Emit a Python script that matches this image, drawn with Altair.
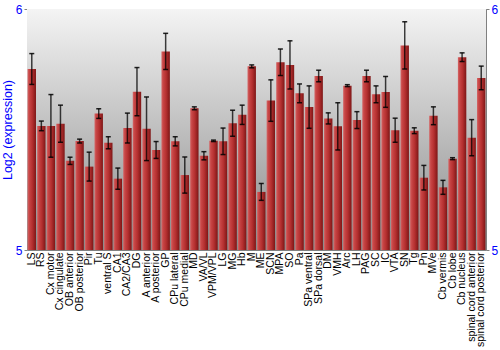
import altair as alt
import pandas as pd

regions = ["LS", "RS", "Cx motor", "Cx cingulate", "OB anterior", "OB posterior", "Pir", "Tu",
           "ventral S", "CA1", "CA2/CA3", "DG", "A anterior", "A posterior", "GP", "CPu lateral",
           "CPu medial", "MD", "VA/VL", "VPM/VPL", "LG", "MG", "Hb", "M", "ME", "SCN", "MPA", "SO",
           "Pa", "SPa ventral", "SPa dorsal", "DM", "VMH", "Arc", "LH", "PAG", "SC", "IC", "VTA",
           "SN", "Tg", "Pn", "MVe", "Cb vermis", "Cb lobe", "Cb nucleus", "spinal cord anterior",
           "spinal cord posterior"]
values = [5.751, 5.515, 5.515, 5.524, 5.370, 5.452, 5.346, 5.566, 5.445, 5.296, 5.506, 5.657,
          5.503, 5.415, 5.824, 5.451, 5.311, 5.588, 5.391, 5.453, 5.451, 5.526, 5.561, 5.762,
          5.241, 5.620, 5.779, 5.768, 5.650, 5.593, 5.722, 5.546, 5.513, 5.682, 5.539, 5.722,
          5.646, 5.656, 5.497, 5.849, 5.495, 5.300, 5.557, 5.260, 5.379, 5.800, 5.466, 5.714]
errors = [0.064, 0.02, 0.13, 0.077, 0.015, 0.008, 0.06, 0.02, 0.025, 0.044, 0.062, 0.10,
          0.132, 0.035, 0.075, 0.019, 0.075, 0.006, 0.017, 0.003, 0.055, 0.054, 0.04, 0.006,
          0.035, 0.086, 0.055, 0.10, 0.039, 0.088, 0.024, 0.023, 0.098, 0.004, 0.035, 0.024,
          0.035, 0.064, 0.05, 0.098, 0.012, 0.051, 0.037, 0.029, 0.004, 0.018, 0.075, 0.049]
y_ticks = [5, 6]

df = pd.DataFrame({"region": regions, "value": values, "err": errors})
df["lo"] = df["value"] - df["err"]
df["hi"] = df["value"] + df["err"]

BLUE = "#0000ff"
FONT = "Liberation Sans"

xenc = alt.X("region:N", sort=regions,
             scale=alt.Scale(paddingInner=0.12, paddingOuter=0.06),
             axis=alt.Axis(title=None, labelAngle=-90, labelFontSize=10.5, labelFont=FONT,
                           labelColor="#000000", ticks=False, domain=False, labelPadding=2,
                           labelOverlap=False))
yscale = alt.Scale(domain=[5, 6], nice=False, zero=False)

bg_grad = alt.LinearGradient(gradient="linear", x1=0, x2=0, y1=0, y2=1,
                             stops=[alt.GradientStop(color="#f4f4f4", offset=0),
                                    alt.GradientStop(color="#8a8a8a", offset=1)])
bar_grad = alt.LinearGradient(gradient="linear", x1=0, x2=1, y1=0, y2=0,
                              stops=[alt.GradientStop(color="#d46868", offset=0),
                                     alt.GradientStop(color="#c84646", offset=0.2),
                                     alt.GradientStop(color="#b53030", offset=0.55),
                                     alt.GradientStop(color="#7e1616", offset=1)])

bg = alt.Chart(pd.DataFrame({"a": [0]})).mark_rect(fill=bg_grad).encode(
    x=alt.value(0), x2=alt.value("width"),
    y=alt.Y(datum=6, type="quantitative", scale=yscale,
            axis=alt.Axis(orient="left", values=y_ticks, format="d", title="Log2 (expression)",
                          titleColor=BLUE, titleFontSize=12.5, titleFont=FONT, titleFontWeight="normal",
                          titlePadding=1, labelColor=BLUE, labelFontSize=12, labelFont=FONT,
                          tickSize=3, tickColor="#808080", domain=False, grid=False, labelPadding=2,
                          labelFlush=False)),
    y2=alt.datum(5),
)

base = alt.Chart(df)
bars = base.mark_bar(fill=bar_grad).encode(
    x=xenc,
    y=alt.Y("value:Q", scale=yscale,
            axis=alt.Axis(orient="right", values=y_ticks, format="d", title=None,
                          labelColor=BLUE, labelFontSize=12, labelFont=FONT,
                          tickSize=3, tickColor="#808080", domain=False, grid=False, labelPadding=2,
                          labelFlush=False)),
    y2=alt.datum(5),
)
ynone_lo = alt.Y("lo:Q", scale=yscale, axis=None)
ynone_hi = alt.Y("hi:Q", scale=yscale, axis=None)
rules = base.mark_rule(color="#000000", strokeWidth=1.5, opacity=0.75).encode(
    x=xenc, y=ynone_lo, y2="hi:Q")
cap_lo = base.mark_tick(color="#000000", size=5, thickness=1.5, opacity=0.85).encode(
    x=xenc, y=ynone_lo)
cap_hi = base.mark_tick(color="#000000", size=5, thickness=1.5, opacity=0.85).encode(
    x=xenc, y=ynone_hi)

chart = alt.layer(bg, bars, rules, cap_lo, cap_hi).resolve_axis(y="independent").properties(
    width=459, height=241,
    autosize=alt.AutoSizeParams(type="none"),
    padding={"left": 27, "top": 9, "right": 14, "bottom": 100},
    background="#ffffff",
).configure_view(stroke="#808080", strokeWidth=1)

chart.save("out.html", embed_options={"renderer": "svg", "actions": False})
